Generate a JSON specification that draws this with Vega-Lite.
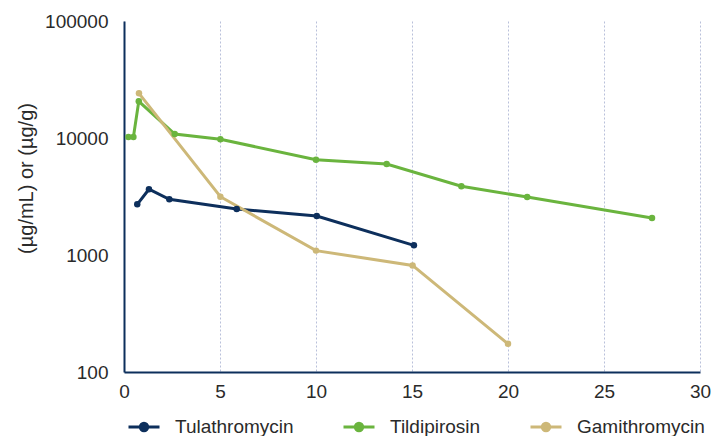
{
  "$schema": "https://vega.github.io/schema/vega-lite/v6.json",
  "width": 576,
  "height": 351,
  "autosize": {"type": "none"},
  "padding": {"left": 124, "top": 21, "right": 25, "bottom": 64},
  "background": "white",
  "config": {
    "font": "Liberation Sans",
    "view": {"stroke": null},
    "axis": {"labelFont": "Liberation Sans", "titleFont": "Liberation Sans"},
    "legend": {"labelFont": "Liberation Sans"}
  },
  "data": {
    "values": [
      {"drug": "Tulathromycin", "day": 0.69, "conc": 2710},
      {"drug": "Tulathromycin", "day": 1.3, "conc": 3650},
      {"drug": "Tulathromycin", "day": 2.36, "conc": 2990},
      {"drug": "Tulathromycin", "day": 5.87, "conc": 2470},
      {"drug": "Tulathromycin", "day": 10.04, "conc": 2150},
      {"drug": "Tulathromycin", "day": 15.1, "conc": 1210},
      {"drug": "Tildipirosin", "day": 0.23, "conc": 10200},
      {"drug": "Tildipirosin", "day": 0.49, "conc": 10200},
      {"drug": "Tildipirosin", "day": 0.77, "conc": 20600},
      {"drug": "Tildipirosin", "day": 2.64, "conc": 10800},
      {"drug": "Tildipirosin", "day": 5.02, "conc": 9750},
      {"drug": "Tildipirosin", "day": 10.0, "conc": 6520},
      {"drug": "Tildipirosin", "day": 13.68, "conc": 5990},
      {"drug": "Tildipirosin", "day": 17.57, "conc": 3870},
      {"drug": "Tildipirosin", "day": 21.0, "conc": 3130},
      {"drug": "Tildipirosin", "day": 27.5, "conc": 2070},
      {"drug": "Gamithromycin", "day": 0.78, "conc": 24100},
      {"drug": "Gamithromycin", "day": 5.02, "conc": 3150},
      {"drug": "Gamithromycin", "day": 10.0, "conc": 1090},
      {"drug": "Gamithromycin", "day": 15.03, "conc": 815},
      {"drug": "Gamithromycin", "day": 20.0, "conc": 174}
    ]
  },
  "mark": {"type": "line", "strokeWidth": 3, "point": {"size": 42, "filled": true, "opacity": 1}},
  "encoding": {
    "x": {
      "field": "day", "type": "quantitative",
      "scale": {"domain": [0, 30], "nice": false, "zero": false},
      "axis": {
        "title": null, "values": [0, 5, 10, 15, 20, 25, 30],
        "labelFontSize": 19, "labelColor": "#2a2a2a", "labelPadding": 10, "labelFlush": false,
        "ticks": false, "domainColor": "#0d2f5c", "domainWidth": 2,
        "grid": true, "gridColor": "#b9c0da", "gridDash": [2, 2], "gridWidth": 1
      }
    },
    "y": {
      "field": "conc", "type": "quantitative",
      "scale": {"type": "log", "domain": [100, 100000], "nice": false},
      "axis": {
        "title": "(µg/mL) or (µg/g)", "values": [100, 1000, 10000, 100000], "format": "d",
        "labelFontSize": 19, "labelColor": "#2a2a2a", "labelPadding": 16, "labelFlush": false,
        "titleFontSize": 20, "titleFontWeight": "normal", "titleColor": "#2a2a2a",
        "titleX": -98, "titleY": 157, "titleAlign": "center", "titleBaseline": "middle", "titleAngle": -90,
        "ticks": false, "grid": false, "domainColor": "#0d2f5c", "domainWidth": 2
      }
    },
    "color": {
      "field": "drug", "type": "nominal",
      "scale": {"domain": ["Tulathromycin", "Tildipirosin", "Gamithromycin"], "range": ["#0d2f5c", "#6ab43e", "#cdb878"]},
      "legend": {
        "title": null, "orient": "none", "direction": "horizontal",
        "legendX": 3, "legendY": 389,
        "labelFontSize": 19, "labelColor": "#2a2a2a",
        "symbolType": "M-1,0L1,0M-0.24,0A0.24,0.24,0,1,1,0.24,0A0.24,0.24,0,1,1,-0.24,0Z",
        "symbolStrokeWidth": 3, "symbolSize": 961, "columnPadding": 43, "labelOffset": 14
      }
    }
  }
}
